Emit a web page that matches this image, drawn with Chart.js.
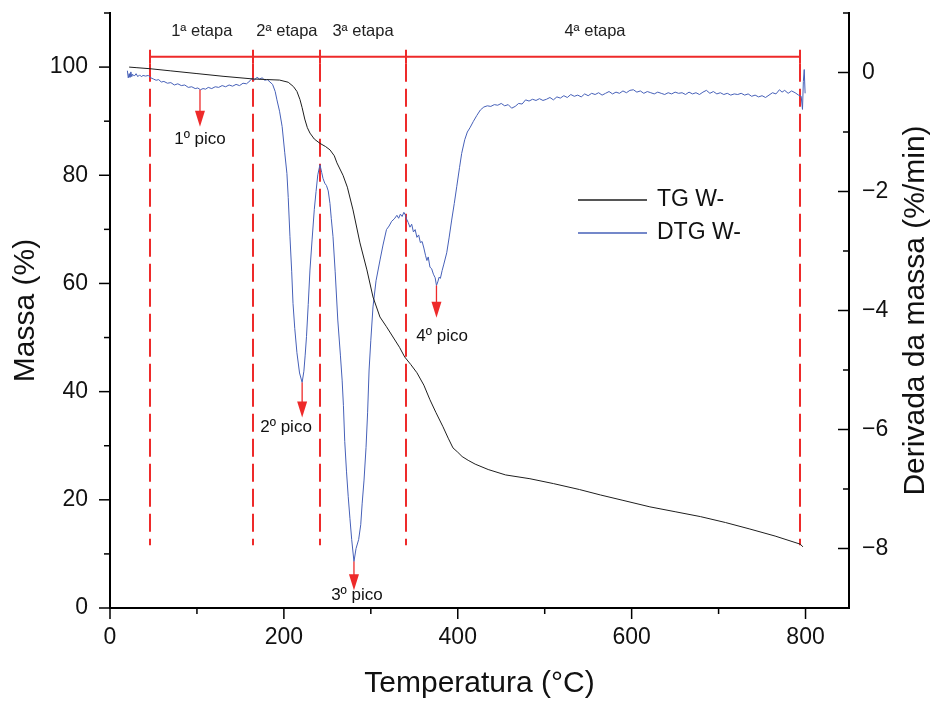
<!DOCTYPE html>
<html>
<head>
<meta charset="utf-8">
<script src="https://cdn.jsdelivr.net/npm/chart.js@4.4.1/dist/chart.umd.min.js"></script>
<style>
  html, body { margin: 0; padding: 0; background: #fff; }
  canvas { display: block; }
</style>
</head>
<body>
<canvas id="tga" width="932" height="702"></canvas>
<script>
// TG curve: temperature (°C) vs remaining mass (%)
var tgTemp = [22, 30, 46, 70, 100, 130, 165, 180, 195, 205, 211, 215, 218.5, 221, 224, 227, 230, 235, 241.5,
  248, 253, 258, 261, 268, 273, 279.5, 287.5, 295.5, 302.5, 310.5, 318, 325.5, 333, 339, 346, 353, 361, 368,
  375, 383, 389, 394.5, 400, 405, 412, 420, 435, 455, 483, 510, 540, 564, 590, 621, 650, 679, 708, 736, 765,
  794, 797];
var tgMass = [100, 99.9, 99.7, 99.3, 98.8, 98.3, 97.8, 97.7, 97.6, 97.2, 96.4, 95.5, 94.0, 92.5, 90.4, 88.8,
  87.8, 86.7, 85.9, 85.3, 84.7, 83.6, 82.3, 80.0, 77.8, 73.6, 67.5, 62.5, 57.5, 53.8, 52.0, 50.1, 48.2, 46.4,
  45.0, 43.5, 41.2, 38.5, 36.1, 33.5, 31.4, 29.6, 28.8, 28.0, 27.3, 26.6, 25.6, 24.6, 23.9, 23.0, 21.9, 20.9,
  19.9, 18.7, 17.8, 16.9, 15.8, 14.6, 13.3, 11.8, 11.3];

// DTG curve: temperature (°C) vs mass derivative (%/min)
var dtgTemp = [20, 21, 22, 23, 24, 25, 26, 28, 30, 32, 34, 36, 38, 41, 44, 47, 50, 53, 56, 59, 62, 66, 70, 74,
  78, 82, 86, 90, 94, 98, 101, 104, 107, 110, 113, 117, 121, 125, 129, 133, 137, 141, 145, 149, 153, 157, 161,
  164, 166, 169, 172, 175, 178, 181, 184, 187, 190, 192, 195, 198, 201, 203.5, 205, 207, 209, 210.5, 212.5,
  215, 218, 221, 223, 224.5, 226, 228, 230, 232.5, 235, 237, 239, 241.5, 243.5, 245, 247, 249, 251, 253, 254.5,
  256.5, 259, 262, 265, 267, 268.5, 270, 272, 274, 276, 278, 280.6, 283, 286, 288.4, 290, 292.2, 294.5, 296.3,
  298, 300, 302.5, 306, 310.6, 314, 318, 321, 324, 327, 330, 332, 334, 336, 338, 339.5, 341, 343, 345, 347,
  349, 351, 353, 355, 357, 359, 361, 363, 364.5, 366, 368, 370, 372, 374, 375.5, 377, 378.5, 380, 382, 384,
  387.3, 390, 393, 396, 398.8, 402, 404.5, 408, 411, 414, 418, 422, 426, 430, 434, 438, 442, 446, 450, 454,
  458, 462, 466, 470, 474, 478, 482, 486, 490, 494, 498, 502, 506, 510, 514, 518, 522, 526, 530, 534, 538,
  542, 546, 550, 554, 558, 562, 566, 570, 574, 578, 582, 586, 590, 594, 598, 602, 606, 610, 614, 618, 622,
  626, 630, 634, 638, 642, 646, 650, 654, 658, 662, 666, 670, 674, 678, 682, 686, 690, 694, 698, 702, 706,
  710, 714, 718, 722, 726, 730, 734, 738, 742, 746, 750, 754, 758, 762, 766, 770, 773, 776, 780, 784, 788,
  792, 795, 796.5, 797.5, 798.5, 799.5];
var dtgRate = [0.03, -0.09, -0.02, -0.08, 0.01, -0.07, -0.03, -0.06, -0.02, -0.07, -0.04, -0.07, -0.05, -0.06,
  -0.05, -0.09, -0.11, -0.13, -0.12, -0.16, -0.15, -0.18, -0.17, -0.21, -0.19, -0.22, -0.21, -0.25, -0.24,
  -0.27, -0.26, -0.29, -0.27, -0.28, -0.25, -0.27, -0.24, -0.25, -0.22, -0.24, -0.21, -0.23, -0.2, -0.22,
  -0.18, -0.19, -0.14, -0.09, -0.13, -0.08, -0.11, -0.09, -0.13, -0.12, -0.16, -0.2, -0.32, -0.46, -0.65,
  -0.91, -1.35, -1.7, -2.1, -2.76, -3.35, -3.88, -4.3, -4.71, -5.05, -5.21, -5.02, -4.75, -4.44, -3.9, -3.32,
  -2.8, -2.3, -2.0, -1.72, -1.55, -1.68, -1.78, -1.86, -1.9, -1.99, -2.2, -2.45, -2.76, -3.35, -4.16, -4.75,
  -5.17, -5.6, -6.2, -6.7, -7.13, -7.5, -7.85, -8.22, -8.0, -7.85, -7.6, -7.25, -6.85, -6.3, -5.72, -5.0,
  -4.5, -3.94, -3.5, -3.15, -2.9, -2.64, -2.58, -2.5, -2.46, -2.4, -2.45, -2.38, -2.42, -2.35, -2.39, -2.46,
  -2.52, -2.6, -2.55, -2.68, -2.64, -2.77, -2.73, -2.86, -2.84, -2.95, -3.08, -3.16, -3.1, -3.27, -3.3,
  -3.39, -3.45, -3.58, -3.52, -3.44, -3.46, -3.33, -3.22, -3.03, -2.78, -2.48, -2.2, -1.92, -1.6, -1.36,
  -1.13, -1.0, -0.93, -0.82, -0.72, -0.63, -0.58, -0.56, -0.57, -0.54, -0.55, -0.52, -0.56, -0.54, -0.6,
  -0.57, -0.52, -0.53, -0.46, -0.48, -0.45, -0.47, -0.44, -0.47, -0.45, -0.42, -0.46, -0.41, -0.43, -0.39,
  -0.42, -0.37, -0.4, -0.38, -0.41, -0.36, -0.39, -0.35, -0.37, -0.34, -0.38, -0.35, -0.32, -0.36, -0.33,
  -0.35, -0.31, -0.34, -0.3, -0.29, -0.33, -0.31, -0.35, -0.32, -0.34, -0.36, -0.33, -0.35, -0.37, -0.34,
  -0.36, -0.33, -0.35, -0.34, -0.37, -0.33, -0.36, -0.34, -0.37, -0.33, -0.3, -0.35, -0.32, -0.36, -0.34,
  -0.37, -0.35, -0.38, -0.36, -0.37, -0.35, -0.38, -0.36, -0.4, -0.38, -0.41, -0.39, -0.42, -0.38, -0.34,
  -0.36, -0.29, -0.33, -0.3, -0.35, -0.31, -0.34, -0.38, -0.4, -0.62, -0.15, 0.05, -0.35];

// axis ticks
var tempTicks = [0, 200, 400, 600, 800];
var tempMinor = [100, 300, 500, 700];
var massTicks = [0, 20, 40, 60, 80, 100];
var massMinor = [10, 30, 50, 70, 90, 110];
var rateTicks = [-8, -6, -4, -2, 0];
var rateMinor = [-9, -7, -5, -3, -1, 1];

// decomposition stages (boundaries in °C) and DTG peaks
var stageBounds = [46, 165, 242, 340, 794];
var stageLabels = ['1ª etapa', '2ª etapa', '3ª etapa', '4ª etapa'];
var peakTemp = [103.5, 221, 280.6, 375.5];
var peakRate = [-0.29, -5.21, -8.22, -3.58];
var peakLabels = ['1º pico', '2º pico', '3º pico', '4º pico'];

var FONT = "'Liberation Sans', Arial, sans-serif";
var RED = '#ee2a2a';
Chart.defaults.font.family = FONT;
Chart.defaults.color = '#111';

function pts(xs, ys) {
  return xs.map(function (v, i) { return { x: v, y: ys[i] }; });
}

// draws tick marks, stage markers, peak arrows, legend and right title
var decor = {
  id: 'decor',
  beforeDatasetsDraw: function (chart, args, o) {
    var ctx = chart.ctx, sx = chart.scales.x, sy = chart.scales.y;
    ctx.save();
    ctx.strokeStyle = RED;
    ctx.lineWidth = 2;
    ctx.setLineDash([18, 7]);
    stageBounds.forEach(function (t) {
      var px = Math.round(sx.getPixelForValue(t));
      ctx.beginPath();
      ctx.moveTo(px, sy.getPixelForValue(o.stage.dashTop));
      ctx.lineTo(px, sy.getPixelForValue(o.stage.bottom));
      ctx.stroke();
    });
    ctx.restore();
  },
  afterDraw: function (chart, args, o) {
    var ctx = chart.ctx, a = chart.chartArea;
    var sx = chart.scales.x, sy = chart.scales.y, sr = chart.scales.y1;
    ctx.save();

    // tick marks
    ctx.strokeStyle = '#000';
    ctx.lineWidth = 1.5;
    function seg(x0, y0, x1, y1) {
      ctx.beginPath(); ctx.moveTo(x0, y0); ctx.lineTo(x1, y1); ctx.stroke();
    }
    tempTicks.forEach(function (v) { var p = sx.getPixelForValue(v); seg(p, a.bottom, p, a.bottom + 11); });
    tempMinor.forEach(function (v) { var p = sx.getPixelForValue(v); seg(p, a.bottom, p, a.bottom + 6); });
    massTicks.forEach(function (v) { var p = sy.getPixelForValue(v); seg(a.left, p, a.left - 11, p); });
    massMinor.forEach(function (v) { var p = sy.getPixelForValue(v); seg(a.left, p, a.left - 6, p); });
    rateTicks.forEach(function (v) { var p = sr.getPixelForValue(v); seg(a.right, p, a.right - 11, p); });
    rateMinor.forEach(function (v) { var p = sr.getPixelForValue(v); seg(a.right, p, a.right - 6, p); });

    // stage bar with end ticks and labels
    ctx.strokeStyle = RED;
    ctx.lineWidth = 2;
    var yb = sy.getPixelForValue(o.stage.y);
    seg(sx.getPixelForValue(stageBounds[0]), yb, sx.getPixelForValue(stageBounds[stageBounds.length - 1]), yb);
    stageBounds.forEach(function (t) {
      var px = Math.round(sx.getPixelForValue(t));
      seg(px, sy.getPixelForValue(o.stage.top), px, sy.getPixelForValue(o.stage.dashTop));
    });
    ctx.fillStyle = '#222';
    ctx.font = '16.5px ' + FONT;
    ctx.textAlign = 'center';
    ctx.textBaseline = 'middle';
    stageLabels.forEach(function (s, i) {
      var cx = sx.getPixelForValue((stageBounds[i] + stageBounds[i + 1]) / 2);
      if (i === 3) cx -= 8;
      ctx.fillText(s, cx, sy.getPixelForValue(o.stage.labelY));
    });

    // peak arrows
    peakTemp.forEach(function (t, i) {
      var px = sx.getPixelForValue(t);
      var y0 = sr.getPixelForValue(peakRate[i]);
      var tip = sr.getPixelForValue(o.peaks.tip[i]);
      ctx.strokeStyle = RED;
      ctx.fillStyle = RED;
      ctx.lineWidth = 1.3;
      seg(px, y0, px, tip - 14);
      ctx.beginPath();
      ctx.moveTo(px - 5, tip - 16);
      ctx.lineTo(px + 5, tip - 16);
      ctx.lineTo(px, tip);
      ctx.closePath();
      ctx.fill();
    });
    ctx.fillStyle = '#111';
    ctx.font = '17px ' + FONT;
    peakLabels.forEach(function (s, i) {
      ctx.fillText(s, sx.getPixelForValue(o.peaks.labelT[i]), sr.getPixelForValue(o.peaks.labelR[i]));
    });

    // legend
    ctx.font = '23px ' + FONT;
    ctx.textAlign = 'left';
    chart.data.datasets.forEach(function (ds, i) {
      var ly = o.legend.y + i * o.legend.gap;
      ctx.strokeStyle = ds.borderColor;
      ctx.lineWidth = 1.5;
      seg(o.legend.x, ly, o.legend.x + 69, ly);
      ctx.fillStyle = '#111';
      ctx.fillText(ds.label, o.legend.x + 79, ly);
    });

    // right axis title, reading bottom to top
    ctx.translate(o.rightTitleX, (a.top + a.bottom) / 2);
    ctx.rotate(-Math.PI / 2);
    ctx.font = '30px ' + FONT;
    ctx.textAlign = 'center';
    ctx.fillText('Derivada da massa (%/min)', 0, 0);
    ctx.restore();
  }
};

function fixed(list) {
  return function (s) { s.ticks = list.map(function (v) { return { value: v }; }); };
}

// vertical axes: fixed width, and no extra room reserved for label overhang
function sideWidth(w) {
  return function (s) { s.width = w; s.paddingTop = 0; s.paddingBottom = 0; };
}

new Chart(document.getElementById('tga'), {
  type: 'line',
  data: {
    datasets: [
      { label: 'TG W-', data: pts(tgTemp, tgMass), yAxisID: 'y', borderColor: '#1e1e1e', borderWidth: 1,
        pointRadius: 0, tension: 0 },
      { label: 'DTG W-', data: pts(dtgTemp, dtgRate), yAxisID: 'y1', borderColor: '#4660b8', borderWidth: 1,
        pointRadius: 0, tension: 0 }
    ]
  },
  options: {
    responsive: false,
    animation: false,
    layout: { padding: { top: 13, left: 0, right: 0, bottom: 0 } },
    plugins: {
      legend: { display: false },
      tooltip: { enabled: false },
      decor: {
        stage: { top: 103.2, y: 101.9, dashTop: 100.6, bottom: 11.6, labelY: 106.5 },
        peaks: { tip: [-0.91, -5.8, -8.7, -4.12], labelT: [103.5, 202.5, 284, 382], labelR: [-1.12, -5.97, -8.78, -4.43] },
        legend: { x: 578, y: 200, gap: 33 },
        rightTitleX: 916
      }
    },
    scales: {
      x: {
        type: 'linear', min: 0, max: 850,
        afterBuildTicks: fixed(tempTicks),
        afterFit: function (s) { s.height = 94; s.paddingLeft = 0; s.paddingRight = 0; },
        grid: { display: false, drawTicks: false },
        border: { display: true, color: '#000', width: 2 },
        ticks: { padding: 16, font: { size: 23 }, color: '#111' },
        title: { display: true, text: 'Temperatura (°C)', font: { size: 30 }, color: '#111', padding: 0 }
      },
      y: {
        position: 'left', min: 0, max: 110,
        afterBuildTicks: fixed(massTicks),
        afterFit: sideWidth(110),
        grid: { display: false, drawTicks: false },
        border: { display: true, color: '#000', width: 2 },
        ticks: { padding: 22, font: { size: 23 }, color: '#111' },
        title: { display: true, text: 'Massa (%)', font: { size: 30 }, color: '#111', padding: { top: 8, bottom: 0 } }
      },
      y1: {
        position: 'right', min: -9, max: 1,
        afterBuildTicks: fixed(rateTicks),
        afterFit: sideWidth(83),
        grid: { display: false, drawTicks: false },
        border: { display: true, color: '#000', width: 2 },
        ticks: { padding: 13, font: { size: 23 }, color: '#111',
          callback: function (v) { return v < 0 ? '\u2212' + Math.abs(v) : String(v); } }
      }
    }
  },
  plugins: [decor]
});
</script>
</body>
</html>
